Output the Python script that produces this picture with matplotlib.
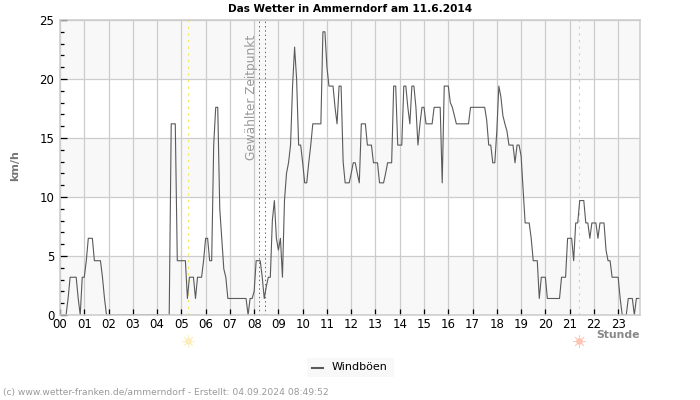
import matplotlib
matplotlib.use("Agg")
import matplotlib.pyplot as plt
from matplotlib.patches import Rectangle
from matplotlib.lines import Line2D

# Windboeen in km/h, ein Wert alle 5 Minuten (12 pro Stunde)
stunde_00 = [0, 0, 0, 0, 1.4, 3.2, 3.2, 3.2, 3.2, 1.4, 0, 3.2]
stunde_01 = [3.2, 4.6, 6.5, 6.5, 6.5, 4.6, 4.6, 4.6, 4.6, 3.2, 1.4, 0]
stunde_02 = [0] * 12
stunde_03 = [0] * 12
stunde_04 = [0, 0, 0, 0, 0, 0, 0, 16.2, 16.2, 16.2, 4.6, 4.6]
stunde_05 = [4.6, 4.6, 4.6, 1.4, 3.2, 3.2, 3.2, 1.4, 3.2, 3.2, 3.2, 4.6]
stunde_06 = [6.5, 6.5, 4.6, 4.6, 14.4, 17.6, 17.6, 9.0, 6.5, 3.9, 3.2, 1.4]
stunde_07 = [1.4, 1.4, 1.4, 1.4, 1.4, 1.4, 1.4, 1.4, 1.4, 0, 1.4, 1.4]
stunde_08 = [2.0, 4.6, 4.6, 4.6, 3.2, 1.4, 2.4, 3.2, 3.2, 8.0, 9.7, 6.5]
stunde_09 = [5.5, 6.5, 3.2, 9.7, 12.0, 12.9, 14.4, 19.4, 22.7, 20.0, 14.4, 14.4]
stunde_10 = [12.9, 11.2, 11.2, 12.9, 14.4, 16.2, 16.2, 16.2, 16.2, 16.2, 24.0, 24.0]
stunde_11 = [21.0, 19.4, 19.4, 19.4, 17.6, 16.2, 19.4, 19.4, 13.0, 11.2, 11.2, 11.2]
stunde_12 = [12.0, 12.9, 12.9, 12.0, 11.2, 16.2, 16.2, 16.2, 14.4, 14.4, 14.4, 12.9]
stunde_13 = [12.9, 12.9, 11.2, 11.2, 11.2, 12.0, 12.9, 12.9, 12.9, 19.4, 19.4, 14.4]
stunde_14 = [14.4, 14.4, 19.4, 19.4, 17.6, 16.2, 19.4, 19.4, 17.6, 14.4, 16.2, 17.6]
stunde_15 = [17.6, 16.2, 16.2, 16.2, 16.2, 17.6, 17.6, 17.6, 17.6, 11.2, 19.4, 19.4]
stunde_16 = [19.4, 18.0, 17.6, 16.9, 16.2, 16.2, 16.2, 16.2, 16.2, 16.2, 16.2, 17.6]
stunde_17 = [17.6, 17.6, 17.6, 17.6, 17.6, 17.6, 17.6, 16.5, 14.4, 14.4, 12.9, 12.9]
stunde_18 = [15.6, 19.4, 18.5, 16.9, 16.2, 15.6, 14.4, 14.4, 14.4, 12.9, 14.4, 14.4]
stunde_19 = [13.5, 10.6, 7.8, 7.8, 7.8, 6.5, 4.6, 4.6, 4.6, 1.4, 3.2, 3.2]
stunde_20 = [3.2, 1.4, 1.4, 1.4, 1.4, 1.4, 1.4, 1.4, 3.2, 3.2, 3.2, 6.5]
stunde_21 = [6.5, 6.5, 4.6, 7.8, 7.8, 9.7, 9.7, 9.7, 7.8, 7.8, 6.5, 7.8]
stunde_22 = [7.8, 7.8, 6.5, 7.8, 7.8, 7.8, 5.5, 4.6, 4.6, 3.2, 3.2, 3.2]
stunde_23 = [3.2, 1.4, 0, 0, 0, 1.4, 1.4, 1.4, 0, 1.4, 1.4, 1.4]

windboeen = (stunde_00 + stunde_01 + stunde_02 + stunde_03 + stunde_04 + stunde_05
             + stunde_06 + stunde_07 + stunde_08 + stunde_09 + stunde_10 + stunde_11
             + stunde_12 + stunde_13 + stunde_14 + stunde_15 + stunde_16 + stunde_17
             + stunde_18 + stunde_19 + stunde_20 + stunde_21 + stunde_22 + stunde_23)
zeit = [i / 12 for i in range(len(windboeen))]

stunden = list(range(24))
stunden_labels = [f"{h:02d}" for h in stunden]
y_major = [0, 5, 10, 15, 20, 25]
y_minor = list(range(26))
baender = [(0, 5), (10, 15), (20, 25)]

sonnenaufgang = 5.29
sonnenuntergang = 21.4
zeitpunkt = [8.21, 8.46]

B, H = 700, 400
GRID = "#cccccc"

fig = plt.figure(figsize=(7, 4), dpi=100)
ax = fig.add_axes([60 / B, 1 - 315 / H, 580 / B, 295 / H])
ax.set_xlim(0, 23.9)
ax.set_ylim(0, 25)

# Hintergrundbaender und Gitter
for unten, oben in baender:
    ax.axhspan(unten, oben, color="#f8f8f8", lw=0, zorder=0)
ax.set_axisbelow(True)
ax.grid(True, which="major", color=GRID, lw=0.9)

ax.set_xticks(stunden)
ax.set_xticklabels(stunden_labels, fontsize=8.5)
ax.set_yticks(y_major)
ax.set_yticklabels(y_major, fontsize=8.5)
ax.set_yticks(y_minor, minor=True)
ax.tick_params(axis="x", which="major", direction="in", length=4, width=0.9, pad=2.5, color="black")
ax.tick_params(axis="y", which="major", direction="in", length=5, width=0.9, pad=4, color="black")
ax.tick_params(axis="y", which="minor", direction="in", length=3, width=0.9, color="black")
# Achsenlinie liegt ueber der Kurve, damit die Null-Werte nicht zu sehen sind
for seite in ax.spines.values():
    seite.set_color(GRID)
    seite.set_linewidth(1.1)
    seite.set_zorder(5)

# Senkrechte Markierungen
ax.axvline(sonnenaufgang, color="#f5e65a", lw=0.8, ls=(0, (2, 4)), zorder=2)
ax.axvline(sonnenuntergang, color="#f0c890", lw=0.8, ls=(0, (2, 4)), zorder=2)
for z in zeitpunkt:
    ax.axvline(z, color="#666666", lw=0.72, ls=(0, (1.4, 2.9)), zorder=2)

ax.plot(zeit, windboeen, color="#5a5a5a", lw=0.8, zorder=3)

# Sonnensymbole unter der Achse
trans = ax.get_xaxis_transform()
y_sonne = -26 / 295
ax.plot([sonnenaufgang], [y_sonne], transform=trans, clip_on=False, marker="o", ms=4.5,
        color="#fde9a6", mec="none")
ax.plot([sonnenaufgang], [y_sonne], transform=trans, clip_on=False, marker=(8, 2, 0), ms=9,
        color="#fdeec0", mew=0.6)
ax.plot([sonnenuntergang], [y_sonne], transform=trans, clip_on=False, marker="o", ms=4.5,
        color="#fdb39a", mec="none")
ax.plot([sonnenuntergang], [y_sonne], transform=trans, clip_on=False, marker=(8, 2, 0), ms=9,
        color="#fdc8b4", mew=0.6)

# Texte
fig.text(350 / B, 1 - 9 / H, "Das Wetter in Ammerndorf am 11.6.2014", ha="center", va="center",
         fontsize=7.6, fontweight="bold", color="black")
fig.text(15 / B, 1 - 166 / H, "km/h", rotation=90, ha="center", va="center",
         fontsize=8, fontweight="bold", color="#777777")
fig.text(640 / B, 1 - 335 / H, "Stunde", ha="right", va="center",
         fontsize=7.8, fontweight="bold", color="#888888")
fig.text(252 / B, 1 - 97 / H, "Gewählter Zeitpunkt", rotation=90, ha="center", va="center",
         fontsize=8.7, color="#999999")
fig.text(3 / B, 1 - 393 / H, "(c) www.wetter-franken.de/ammerndorf - Erstellt: 04.09.2024 08:49:52",
         ha="left", va="center", fontsize=6.6, color="#999999")

# Legende
fig.add_artist(Rectangle((307 / B, 1 - 377 / H), 87 / B, 19 / H, transform=fig.transFigure,
                         facecolor="#f8f8f8", edgecolor="none"))
fig.add_artist(Line2D([312 / B, 323 / B], [1 - 368 / H, 1 - 368 / H], transform=fig.transFigure,
                      color="#5a5a5a", lw=1.5))
fig.text(332 / B, 1 - 367 / H, "Windböen", ha="left", va="center", fontsize=8, color="black")

fig.savefig("out.png", dpi=100)
